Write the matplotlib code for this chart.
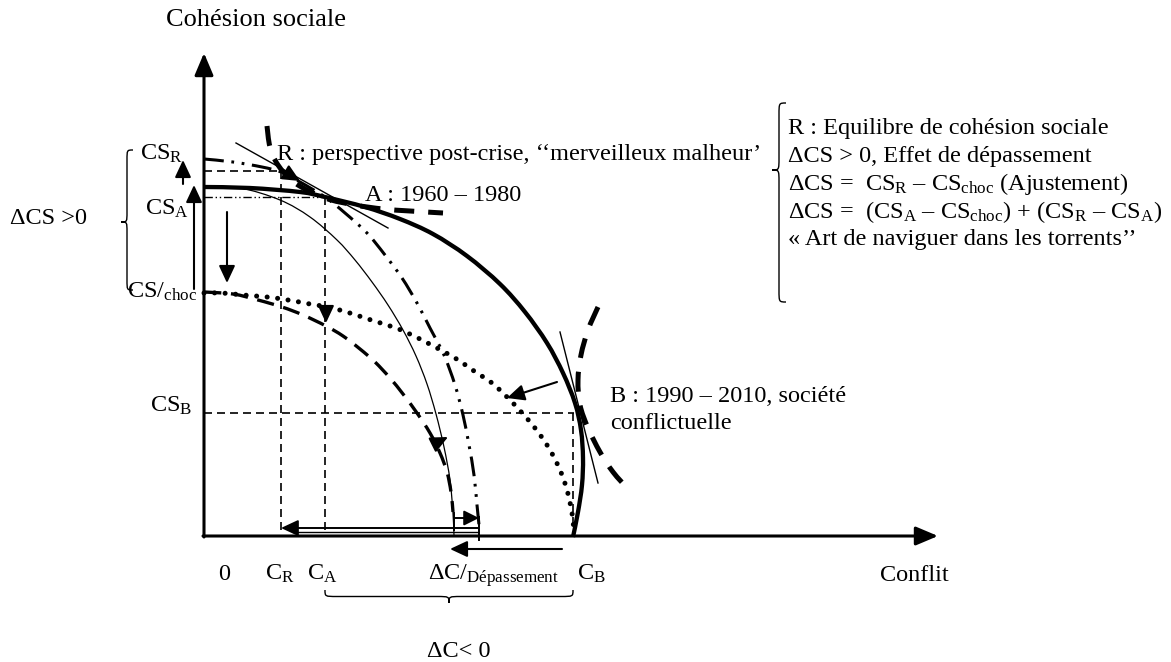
import matplotlib
matplotlib.use('Agg')
import matplotlib.pyplot as plt
from matplotlib.path import Path
from matplotlib.patches import PathPatch

plt.rcParams['font.family'] = ['Liberation Serif', 'DejaVu Serif']
plt.rcParams['mathtext.fontset'] = 'custom'
plt.rcParams['mathtext.rm'] = 'Liberation Serif'
plt.rcParams['mathtext.it'] = 'Liberation Serif:italic'
plt.rcParams['mathtext.bf'] = 'Liberation Serif:bold'

# ---------------- data (pixel space, y downward) -------------
origin = (204, 536)
y_axis_top = 53
x_axis_right = 938

# frontier A/B (thick solid)
frontier_x = [204, 250, 300, 325, 365, 400, 433, 467, 500, 525, 547, 563, 575, 581, 583, 582, 578, 573]
frontier_y = [187, 188, 192, 197, 207, 219, 234, 256, 284, 312, 343, 373, 403, 430, 458, 485, 512, 537]

# thin solid frontier
thin_x = [204, 240, 280, 310, 337, 355, 372, 388, 403, 416, 427, 436, 444, 450, 453, 454]
thin_y = [187, 188, 200, 217, 240, 260, 282, 305, 330, 356, 384, 414, 447, 480, 513, 536]

# R frontier (dash-dot-dot)
rcurve_x = [204, 233, 262, 281, 300, 325, 345, 367, 385, 402, 417, 430, 444, 455, 463, 469, 474, 477, 479]
rcurve_y = [159, 162, 167, 172, 182, 197, 213, 233, 255, 278, 303, 328, 355, 385, 415, 445, 475, 505, 525]

# shock frontier (dashed)
shock_x = [204, 233, 258, 282, 303, 326, 343, 360, 375, 390, 403, 417, 430, 440, 447, 451, 453]
shock_y = [292, 294, 300, 307, 315, 326, 336, 349, 362, 378, 394, 413, 433, 453, 472, 492, 512]

# dotted frontier
dotted_x = [204, 222, 243, 267, 288, 310, 332, 353, 374, 396, 416, 435, 455, 474, 492, 508,
            524, 538, 550, 560, 567, 572, 574]
dotted_y = [293, 293, 295, 297, 300, 304, 308, 314, 321, 328, 337, 347, 358, 371, 383, 398,
            415, 432, 450, 470, 490, 513, 533]

# indifference curves (thick dashed)
indA_x = [267, 270, 278, 295, 325, 355, 383, 410, 443]
indA_y = [126, 147, 165, 183, 198, 205, 209, 211, 213]
indB_x = [598, 588, 581, 578, 580, 588, 600, 613, 628]
indB_y = [307, 330, 355, 380, 405, 428, 452, 472, 489]

# tangents (thin solid)
tanA_x = [236, 388]
tanA_y = [143, 228]
tanB_x = [560, 598]
tanB_y = [332, 483]

# levels
CS_R, CS_A, CS_B = 171, 197, 413
C_R, C_A, C_B = 281, 325, 574

# ---------------- figure ----------------
fig = plt.figure(figsize=(11.71, 6.62), dpi=100)
ax = fig.add_axes([0, 0, 1, 1])
ax.set_xlim(0, 1171)
ax.set_ylim(662, 0)
ax.axis('off')

K = 'black'


def smooth(xs, ys, **kw):
    """Draw a smooth path (Catmull-Rom as cubic Bezier) through the read points."""
    P = list(zip(xs, ys))
    n = len(P)
    verts = [P[0]]
    codes = [Path.MOVETO]
    for i in range(n - 1):
        p0 = P[i - 1] if i > 0 else P[i]
        p1 = P[i]
        p2 = P[i + 1]
        p3 = P[i + 2] if i + 2 < n else P[i + 1]
        c1 = (p1[0] + (p2[0] - p0[0]) / 6.0, p1[1] + (p2[1] - p0[1]) / 6.0)
        c2 = (p2[0] - (p3[0] - p1[0]) / 6.0, p2[1] - (p3[1] - p1[1]) / 6.0)
        verts += [c1, c2, p2]
        codes += [Path.CURVE4] * 3
    ax.add_patch(PathPatch(Path(verts, codes), fill=False, color=K, **kw))


def arrow(tail, tip, lw=1.5, hl=0.75, hw=0.35, ms=14):
    ax.annotate('', xy=tip, xytext=tail,
                arrowprops=dict(arrowstyle=f'-|>,head_length={hl},head_width={hw}',
                                mutation_scale=ms, lw=lw, color=K,
                                shrinkA=0, shrinkB=0))


# axes
arrow((origin[0], origin[1] + 1), (origin[0], y_axis_top), lw=2.2, hl=0.9, hw=0.38, ms=15)
arrow((origin[0] - 1, origin[1]), (x_axis_right, origin[1]), lw=2.2, hl=0.9, hw=0.38, ms=15)

# guide lines
dash = (0, (4.8, 3))
ax.plot([origin[0], C_R], [CS_R, CS_R], color=K, lw=1.2, ls=dash)
ax.plot([C_R, C_R], [CS_R, origin[1]], color=K, lw=1.2, ls=dash)
ax.plot([origin[0], C_A], [CS_A, CS_A], color=K, lw=1.0, ls=(0, (6, 2, 1, 2, 1, 2)))
ax.plot([C_A, C_A], [CS_A, origin[1]], color=K, lw=1.2, ls=dash)
ax.plot([origin[0], C_B], [CS_B, CS_B], color=K, lw=1.2, ls=dash)
ax.plot([C_B - 1, C_B - 1], [CS_B, 524], color=K, lw=1.2, ls=dash)

# curves
smooth(thin_x, thin_y, lw=0.9)
smooth(frontier_x, frontier_y, lw=3.1, capstyle='butt')
smooth(rcurve_x, rcurve_y, lw=2.2, linestyle=(0, (6.5, 2.5, 0.9, 2.5, 0.9, 2.5)))
smooth(shock_x, shock_y, lw=2.4, linestyle=(0, (5.2, 2.9)))
smooth(dotted_x, dotted_y, lw=3.6, linestyle=(0, (0.01, 2.1)), capstyle='round')
smooth(indA_x, indA_y, lw=3.6, linestyle=(0, (4, 2.8)))
smooth(indB_x, indB_y, lw=3.6, linestyle=(0, (4, 2.8)))
ax.plot(tanA_x, tanA_y, color=K, lw=1.0)
ax.plot(tanB_x, tanB_y, color=K, lw=1.0)

# arrows on the left
arrow((183, 184), (183, 160))
arrow((194, 289), (194, 185))
arrow((227, 212), (227, 283))
# arrow heads on curves
arrow((C_A + 1, 306), (C_A + 1, 323))
arrow((283, 171), (300, 181))
arrow((434, 444), (448, 437))
arrow((557, 382), (507, 398), lw=1.5)

# bottom arrows
arrow((478, 528), (281, 528), lw=1.4)
ax.plot([293, 478], [531.5, 531.5], color=K, lw=1.0)
ax.plot([454, 454], [513, 530], color=K, lw=1.4)
arrow((454, 518), (479, 518), lw=1.4, hl=0.7, hw=0.35, ms=13)
ax.plot([479, 479], [517, 540], color=K, lw=1.4)
arrow((562, 549), (450, 549), lw=1.5)


# braces
BRACE_CODES = [Path.MOVETO, Path.CURVE4, Path.CURVE4, Path.CURVE4, Path.LINETO,
               Path.CURVE4, Path.CURVE4, Path.CURVE4,
               Path.CURVE4, Path.CURVE4, Path.CURVE4, Path.LINETO,
               Path.CURVE4, Path.CURVE4, Path.CURVE4]


def vbrace(x_end, x_tip, y_top, y_bot, y_tip, r, lw=1.0):
    xm = (x_end + x_tip) / 2
    verts = [(x_end, y_top), (xm, y_top), (xm, y_top), (xm, y_top + r),
             (xm, y_tip - r),
             (xm, y_tip), (xm, y_tip), (x_tip, y_tip),
             (xm, y_tip), (xm, y_tip), (xm, y_tip + r),
             (xm, y_bot - r),
             (xm, y_bot), (xm, y_bot), (x_end, y_bot)]
    ax.add_patch(PathPatch(Path(verts, BRACE_CODES), fill=False, lw=lw, color=K))


def hbrace(y_end, y_tip, x_left, x_right, x_tip, r, lw=1.0):
    ym = (y_end + y_tip) / 2
    verts = [(x_left, y_end), (x_left, ym), (x_left, ym), (x_left + r, ym),
             (x_tip - r, ym),
             (x_tip, ym), (x_tip, ym), (x_tip, y_tip),
             (x_tip, ym), (x_tip, ym), (x_tip + r, ym),
             (x_right - r, ym),
             (x_right, ym), (x_right, ym), (x_right, y_end)]
    ax.add_patch(PathPatch(Path(verts, BRACE_CODES), fill=False, lw=lw, color=K))


vbrace(133, 121, 150, 290, 222, 10)
vbrace(786, 772, 103, 302, 170, 12)
hbrace(590, 603, 325, 573, 449, 12)

# ---------------- texts ----------------
FS = 17.5


def T(x, y, s, fs=FS, **kw):
    ax.text(x, y, s, fontsize=fs, ha='left', va='baseline', color=K, **kw)


T(166, 26, 'Cohésion sociale', fs=19)
T(880, 581, 'Conflit')
T(10, 224, 'ΔCS >0')
T(140, 160, r'CS$_{\mathrm{R}}$')
T(145, 215, r'CS$_{\mathrm{A}}$')
T(127, 298, r'CS/$_{\mathrm{choc}}$')
T(150, 412, r'CS$_{\mathrm{B}}$')

T(218, 580, '0')
T(265, 580, r'C$_{\mathrm{R}}$')
T(307, 580, r'C$_{\mathrm{A}}$')
T(428, 580, r'ΔC/$_{\mathrm{Dépassement}}$')
T(577, 580, r'C$_{\mathrm{B}}$')
T(427, 657, 'ΔC< 0')

T(277, 160, 'R : perspective post-crise, ‘‘merveilleux malheur’')
T(365, 201, 'A : 1960 – 1980')
T(610, 402, 'B : 1990 – 2010, société')
T(610, 429, 'conflictuelle')

T(788, 134, 'R : Equilibre de cohésion sociale')
T(788, 162, 'ΔCS > 0, Effet de dépassement')
T(788, 190, r'ΔCS =  CS$_{\mathrm{R}}$ – CS$_{\mathrm{choc}}$ (Ajustement)')
T(788, 218, r'ΔCS =  (CS$_{\mathrm{A}}$ – CS$_{\mathrm{choc}}$) + (CS$_{\mathrm{R}}$ – CS$_{\mathrm{A}}$)')
T(788, 245, '« Art de naviguer dans les torrents’’')

fig.savefig('out.png', dpi=100)
